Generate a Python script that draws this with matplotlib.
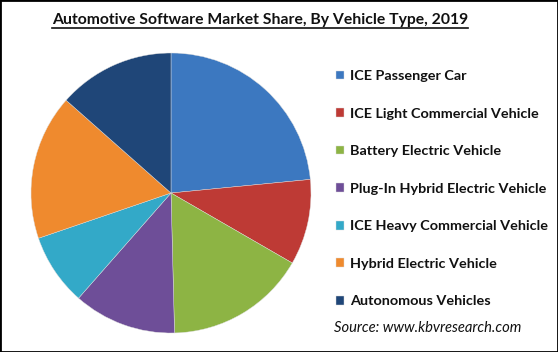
import matplotlib
matplotlib.use("Agg")
import matplotlib.pyplot as plt
from matplotlib.lines import Line2D
from matplotlib.patches import Rectangle

categories = ["ICE Passenger Car", "ICE Light Commercial Vehicle", "Battery Electric Vehicle",
              "Plug-In Hybrid Electric Vehicle", "ICE Heavy Commercial Vehicle",
              "Hybrid Electric Vehicle", "Autonomous Vehicles"]
shares = [23.5, 9.9, 16.3, 11.9, 8.3, 16.8, 13.5]
colors = ["#3C78C0", "#BE3A35", "#8DB444", "#6E4E98", "#33A9C8", "#EF8A2E", "#1F4678"]
title = "Automotive Software Market Share, By Vehicle Type, 2019"
source = "Source: www.kbvresearch.com"

plt.rcParams['font.family'] = ['Lato', 'DejaVu Sans']

W, H = 558, 352
fig = plt.figure(figsize=(W / 100, H / 100), dpi=100)
fig.patch.set_facecolor("white")

cx, cy, r = 171, 193, 140
ax = fig.add_axes([(cx - r) / W, (H - cy - r) / H, 2 * r / W, 2 * r / H])
wedges, _ = ax.pie(shares, colors=colors, startangle=90, counterclock=False,
                   radius=1, wedgeprops=dict(linewidth=0.3, edgecolor="#dddddd"))
ax.set_xlim(-1, 1)
ax.set_ylim(-1, 1)
ax.set_aspect("equal")
ax.axis("off")

t = fig.text(260 / W, 1 - 20 / H, title, ha="center", va="center",
             fontsize=11.3, fontweight="bold", color="#111111")

leg = fig.legend(wedges, categories, loc="upper left",
                 bbox_to_anchor=(336 / W, 1 - 70 / H), frameon=False,
                 prop=dict(weight="bold", size=10.4),
                 handlelength=0.55, handleheight=0.55, handletextpad=0.45,
                 labelspacing=1.77, borderpad=0, borderaxespad=0)
for txt in leg.get_texts():
    txt.set_color("#111111")

fig.text(334 / W, 1 - 328 / H, source, ha="left", va="center",
         fontsize=10.6, style="italic", color="#111111")

fig.canvas.draw()
bb = t.get_window_extent().transformed(fig.transFigure.inverted())
uy = bb.y0 - 1.0 / H
fig.add_artist(Line2D([bb.x0, bb.x1], [uy, uy], transform=fig.transFigure,
                      color="#111111", linewidth=1.2))

fig.add_artist(Rectangle((0, 0), 1, 1, transform=fig.transFigure, fill=False,
                         edgecolor="black", linewidth=2))

fig.savefig("out.png", dpi=100)
